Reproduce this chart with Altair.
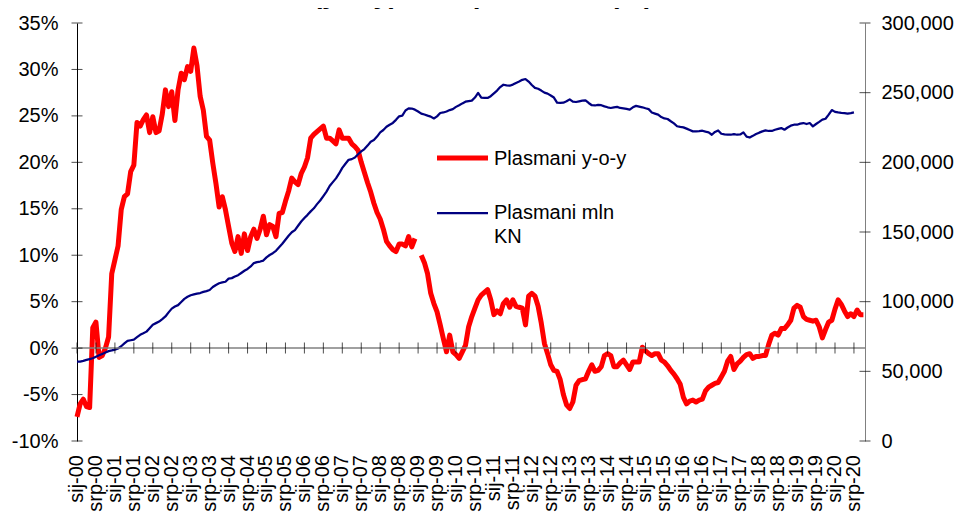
import altair as alt
import pandas as pd

# ---------------- data ----------------
YEARS = list(range(2000, 2021))
HALF_YEAR_LABELS = [f"{mo}-{y % 100:02d}" for y in YEARS for mo in ("sij", "srp")]
TICK_MONTHS = [6 * i for i in range(len(HALF_YEAR_LABELS))]
LEFT_TICKS = list(range(-10, 40, 5))
RIGHT_TICKS = list(range(0, 300001, 50000))
SERIES = ["Plasmani y-o-y", "Plasmani mln KN"]
LEGEND_TEXT = ["Plasmani y-o-y", "Plasmani mln\nKN"]
TITLE_LINE = "(y-o-y), rast plasmana (%)"

# y-o-y growth of loans, % (monthly, Jan 2000 ...)
RED_YOY = [
    -7.4, -6.0, -5.5, -6.3, -6.4, 2.2, 2.8, -1.0, -0.8, 0.0, 1.2, 8.0,          # 2000
    9.5, 11.0, 14.9, 16.3, 16.6, 19.0, 19.7, 24.3, 23.9, 24.6, 25.1, 23.2,      # 2001
    24.9, 23.2, 23.4, 25.2, 27.8, 26.0, 27.6, 24.5, 27.8, 29.6, 28.9, 30.3,     # 2002
    29.8, 32.3, 30.4, 27.1, 25.6, 22.8, 22.4, 19.9, 17.7, 15.2, 16.3, 14.9,     # 2003
    13.1, 11.3, 10.4, 12.0, 10.2, 12.3, 10.5, 12.0, 12.8, 11.8, 12.8, 14.2,     # 2004
    12.2, 13.3, 13.1, 12.0, 14.5, 14.6, 15.8, 16.9, 18.3, 17.9, 17.6, 18.8,     # 2005
    19.5, 20.5, 22.6, 23.0, 23.3, 23.6, 23.9, 22.6, 22.6, 22.3, 22.0, 23.5,     # 2006
    22.6, 22.6, 22.6, 22.0, 21.7, 21.3, 20.0, 18.9, 17.8, 16.8, 15.6, 14.6,     # 2007
    13.9, 12.8, 11.5, 11.0, 10.6, 10.4, 11.2, 11.2, 11.0, 12.0, 10.9, 11.8,     # 2008
    None, 10.0, 9.2, 8.0, 5.9, 4.8, 3.9, 2.5, 1.0, -0.4, 1.4, -0.4,             # 2009
    -0.7, -1.1, -0.4, 0.3, 2.3, 3.4, 4.3, 5.2, 5.7, 6.0, 6.3, 5.2,              # 2010
    3.6, 4.0, 3.7, 4.8, 5.2, 4.4, 5.2, 4.5, 4.4, 4.3, 2.5, 5.6,                 # 2011
    5.9, 5.6, 4.5, 2.7, 0.5, -0.6, -1.8, -2.4, -2.5, -3.4, -5.0, -6.1,          # 2012
    -6.5, -5.8, -4.0, -3.5, -3.4, -3.3, -2.5, -1.8, -2.5, -2.4, -2.0, -0.8,     # 2013
    -0.6, -0.8, -2.0, -2.0, -1.6, -1.3, -1.8, -2.3, -1.5, -1.5, -1.5, 0.1,      # 2014
    -0.3, -0.6, -0.8, -0.6, -0.6, -1.3, -1.5, -1.9, -2.4, -2.8, -3.3, -3.9,     # 2015
    -5.3, -6.0, -5.7, -5.6, -5.8, -5.6, -5.5, -4.6, -4.2, -4.0, -3.8, -3.7,     # 2016
    -3.1, -2.5, -1.4, -0.9, -2.3, -1.7, -1.4, -1.0, -0.7, -0.6, -1.1, -0.9,     # 2017
    -0.9, -0.8, -0.8, 0.4, 1.4, 1.6, 1.4, 2.1, 2.1, 2.5, 3.0, 4.3,              # 2018
    4.6, 4.4, 3.4, 3.1, 3.0, 2.9, 3.0, 2.3, 1.1, 2.0, 2.8, 3.0,                 # 2019
    4.2, 5.2, 4.7, 4.0, 3.4, 3.7, 3.4, 4.1, 3.6, 3.6,                           # 2020
]

# stock of loans, thousands of mln KN (monthly, Jan 2000 ...)
BLUE_STOCK_K = [
    57.0, 57.0, 57.5, 58.2, 58.8, 59.4, 60.5, 61.5, 62.5, 63.5, 64.5, 65.0,
    65.6, 66.4, 68.0, 70.0, 71.8, 72.3, 72.8, 74.5, 76.2, 77.3, 78.5, 81.0,
    83.5, 84.6, 85.7, 87.5, 89.4, 92.3, 95.0, 96.5, 97.5, 99.8, 102.0, 103.5,
    104.6, 105.2, 105.8, 106.2, 107.0, 107.6, 108.4, 110.5, 112.0, 113.2, 113.8, 114.3,
    116.5, 116.9, 118.0, 119.0, 120.6, 122.2, 123.5, 125.3, 127.7, 128.4, 128.8, 129.5,
    131.8, 133.5, 134.8, 136.5, 139.0, 141.6, 144.4, 147.3, 149.8, 151.4, 154.5, 157.5,
    160.0, 162.3, 164.8, 167.0, 170.0, 172.6, 175.8, 179.0, 183.0, 185.8, 188.5, 192.0,
    196.0, 199.0, 201.8, 202.3, 203.5, 205.8, 207.8, 209.5, 212.0, 214.8, 216.0, 218.5,
    221.5, 223.2, 225.5, 227.0, 228.3, 230.5, 233.0, 233.5, 237.2, 238.7, 238.6, 237.8,
    236.5, 235.0, 234.3, 233.5, 232.8, 231.5, 233.0, 235.4, 235.8, 236.5, 237.5, 238.2,
    239.8, 241.0, 242.3, 243.5, 244.0, 244.3, 246.5, 249.8, 246.5, 246.2, 246.2, 247.5,
    249.5, 251.5, 254.0, 255.7, 255.2, 255.0, 255.8, 257.0, 258.0, 259.2, 259.8, 258.0,
    255.5, 253.4, 252.8, 251.5, 250.0, 249.3, 248.0, 246.5, 242.8, 242.6, 242.8, 243.8,
    245.2, 243.5, 243.3, 243.8, 244.3, 244.5, 242.6, 241.0, 240.8, 241.3, 241.0, 240.2,
    239.5, 239.0, 239.5, 239.8, 239.0, 238.8, 238.4, 237.8, 239.5, 240.5, 240.0, 239.5,
    238.8, 238.2, 235.8, 235.0, 234.2, 232.5, 231.5, 231.1, 229.5, 228.0, 225.9, 225.4,
    225.1, 224.2, 223.2, 222.2, 222.2, 222.4, 222.7, 222.0, 221.5, 219.8, 221.8, 222.9,
    220.5, 220.0, 219.8, 219.8, 220.3, 219.8, 220.0, 221.5, 218.5, 217.8, 219.0, 220.3,
    221.3, 222.2, 222.9, 222.5, 222.5, 223.4, 224.0, 224.6, 223.4, 225.0, 226.3, 227.0,
    227.0, 227.8, 228.2, 227.5, 228.2, 225.8, 227.5, 229.0, 230.6, 231.3, 234.2, 237.5,
    236.2, 235.8, 235.5, 235.3, 234.9, 235.3, 235.8,
]

# ---------------- styling ----------------
RED = "#FF0000"
NAVY = "#000080"
FONT = "Liberation Sans"
W, H = 788, 418

red_df = pd.DataFrame({"m": list(range(len(RED_YOY))), "pct": RED_YOY, "s": SERIES[0]})
blue_df = pd.DataFrame({"m": list(range(len(BLUE_STOCK_K))),
                        "mln": [b * 1000 for b in BLUE_STOCK_K], "s": SERIES[1]})
xtick_df = pd.DataFrame({"m": TICK_MONTHS, "pct": [0] * len(TICK_MONTHS),
                         "label": HALF_YEAR_LABELS})
ltick_df = pd.DataFrame({"pct": LEFT_TICKS})
rtick_df = pd.DataFrame({"mln": RIGHT_TICKS})
zero_df = pd.DataFrame({"pct": [0]})
one = pd.DataFrame({"k": [0]})

x_scale = alt.Scale(domain=[0, 249.5], nice=False, zero=False)
left_scale = alt.Scale(domain=[-10, 35], nice=False, zero=False)
right_scale = alt.Scale(domain=[0, 300000], nice=False)

left_axis = alt.Axis(
    orient="left", values=LEFT_TICKS, labelExpr="datum.value + '%'",
    grid=False, domainColor="black", ticks=False,
    labelPadding=19, labelFont=FONT, labelFontSize=20, labelColor="black",
    title=None,
)
right_axis = alt.Axis(
    orient="right", values=RIGHT_TICKS, format=",.0f",
    grid=False, domainColor="#808080", ticks=False,
    labelPadding=16, labelFont=FONT, labelFontSize=20, labelColor="black",
    title=None,
)

red_line = alt.Chart(red_df).mark_line(color=RED, strokeWidth=5, strokeJoin="round").encode(
    x=alt.X("m:Q", scale=x_scale, axis=None),
    y=alt.Y("pct:Q", scale=left_scale, axis=left_axis),
)
blue_line = alt.Chart(blue_df).mark_line(color=NAVY, strokeWidth=2.25, strokeJoin="round").encode(
    x=alt.X("m:Q", scale=x_scale, axis=None),
    y=alt.Y("mln:Q", scale=right_scale, axis=right_axis),
)
zero_rule = alt.Chart(zero_df).mark_rule(color="#808080", strokeWidth=1.5).encode(
    x=alt.value(0), x2=alt.value(W),
    y=alt.Y("pct:Q", scale=left_scale, axis=None),
)
zero_ticks = alt.Chart(xtick_df).mark_tick(orient="vertical", color="black", thickness=1, size=11).encode(
    x=alt.X("m:Q", scale=x_scale, axis=None),
    y=alt.Y("pct:Q", scale=left_scale, axis=None),
)
# category labels of the x axis (rotated, below the plot), placed by the x scale
x_labels = alt.Chart(xtick_df).mark_text(angle=270, align="right", baseline="middle", font=FONT,
                                          fontSize=20, color="black").encode(
    x=alt.X("m:Q", scale=x_scale, axis=None),
    y=alt.value(H + 14),
    text="label:N",
)
left_ticks = alt.Chart(ltick_df).mark_tick(orient="horizontal", color="black", thickness=1, size=11).encode(
    x=alt.value(0),
    y=alt.Y("pct:Q", scale=left_scale, axis=None),
)
right_ticks = alt.Chart(rtick_df).mark_tick(orient="horizontal", color="black", thickness=1, size=11).encode(
    x=alt.value(W),
    y=alt.Y("mln:Q", scale=right_scale, axis=None),
)

# legend drawn inside the plot
leg_red_rule = alt.Chart(one).mark_rule(color=RED, strokeWidth=5).encode(
    x=alt.value(360), x2=alt.value(411), y=alt.value(135))
leg_red_text = alt.Chart(one).mark_text(align="left", baseline="alphabetic", font=FONT,
                                        fontSize=20, color="black").encode(
    x=alt.value(417), y=alt.value(142), text=alt.value(LEGEND_TEXT[0]))
leg_blue_rule = alt.Chart(one).mark_rule(color=NAVY, strokeWidth=2.25).encode(
    x=alt.value(360), x2=alt.value(411), y=alt.value(190))
leg_blue_text = alt.Chart(one).mark_text(align="left", baseline="alphabetic", font=FONT,
                                         fontSize=20, color="black", lineBreak="\n",
                                         lineHeight=24).encode(
    x=alt.value(417), y=alt.value(196), text=alt.value(LEGEND_TEXT[1]))

title_text = alt.Chart(one).mark_text(align="center", baseline="alphabetic", font=FONT,
                                      fontSize=28, fontWeight="bold", color="black").encode(
    x=alt.value(406), y=alt.value(-20), text=alt.value(TITLE_LINE))

chart = alt.layer(
    red_line, blue_line, zero_rule, zero_ticks, x_labels, left_ticks, right_ticks,
    leg_red_rule, leg_red_text, leg_blue_rule, leg_blue_text, title_text,
).resolve_scale(y="independent").properties(
    width=W, height=H,
    padding={"left": 69, "top": 15, "right": 90, "bottom": 72},
    autosize=alt.AutoSizeParams(type="none"),
).configure_view(stroke=None)

chart.save("out.html", embed_options={"renderer": "svg", "actions": False})
